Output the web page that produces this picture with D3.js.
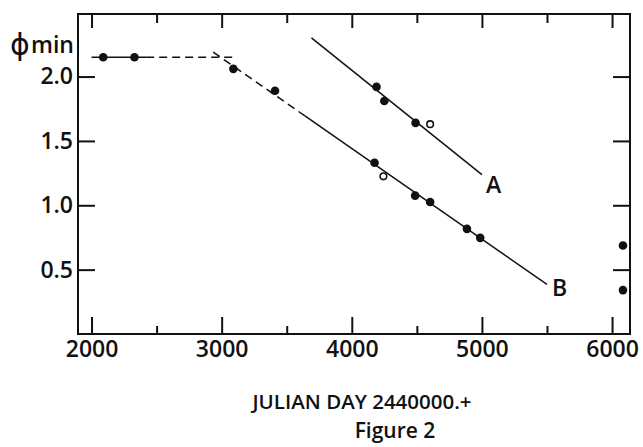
<!DOCTYPE html>
<html>
<head>
<meta charset="utf-8">
<script src="https://cdn.jsdelivr.net/npm/d3@7"></script>
<style>
  body { margin: 0; background: #fff; }
  svg text { font-family: "Open Sans", "DejaVu Sans", sans-serif; font-weight: 600; fill: #111; }
</style>
</head>
<body>
<svg width="643" height="447"></svg>
<script>
const width = 643,
    height = 447,
    margin = ({ top: 14, right: 13, bottom: 113, left: 78 });

// filled points (julian day - 2440000, phi min)
const filledDay = [2090, 2330, 3090, 3410, 4190, 4250, 4490, 4175, 4487, 4602, 4885, 4987, 6084, 6084];
const filledPhi = [2.15, 2.15, 2.06, 1.89, 1.92, 1.81, 1.64, 1.33, 1.075, 1.026, 0.817, 0.747, 0.688, 0.341];

// open points
const openDay = [4602, 4243];
const openPhi = [1.63, 1.225];

// fitted lines
const plateauSolid = [[2000, 2.15], [2420, 2.15]];
const plateauDash = [[2420, 2.15], [3115, 2.15]];
const slopeDash = [[2935, 2.19], [3640, 1.694]];
const lineB = [[3640, 1.694], [5500, 0.385]];
const lineA = [[3690, 2.30], [5000, 1.238]];

const xMajor = [2000, 3000, 4000, 5000, 6000];
const xMinor = [2500, 3500, 4500, 5500];
const yTicks = [0.5, 1.0, 1.5, 2.0];

const svg = d3.select("svg");

const x = d3.scaleLinear()
    .domain([1896, 6138])
    .range([margin.left, width - margin.right]);

const y = d3.scaleLinear()
    .domain([0, 2.486])
    .range([height - margin.bottom, margin.top]);

const x0 = x.range()[0], x1 = x.range()[1],
    y0 = y.range()[0], y1 = y.range()[1];

function styleAxis(g) {
  g.select(".domain").remove();
  g.selectAll("line").attr("stroke", "#111").attr("stroke-width", 2);
  g.selectAll("text").style("font-size", "23px");
}

// bottom axis, major ticks with labels
svg.append("g")
    .attr("transform", `translate(0,${y0})`)
    .call(d3.axisBottom(x).tickValues(xMajor).tickSizeInner(-17).tickSizeOuter(0)
      .tickPadding(7).tickFormat(d3.format("d")))
    .call(styleAxis);

svg.append("g")
    .attr("transform", `translate(0,${y0})`)
    .call(d3.axisBottom(x).tickValues(xMinor).tickSizeInner(-8).tickSizeOuter(0).tickFormat(""))
    .call(styleAxis);

// top axis
svg.append("g")
    .attr("transform", `translate(0,${y1})`)
    .call(d3.axisTop(x).tickValues(xMajor).tickSizeInner(-14).tickSizeOuter(0).tickFormat(""))
    .call(styleAxis);

svg.append("g")
    .attr("transform", `translate(0,${y1})`)
    .call(d3.axisTop(x).tickValues(xMinor).tickSizeInner(-9).tickSizeOuter(0).tickFormat(""))
    .call(styleAxis);

// left axis
svg.append("g")
    .attr("transform", `translate(${x0},0)`)
    .call(d3.axisLeft(y).tickValues(yTicks).tickSizeInner(-17).tickSizeOuter(0)
      .tickPadding(5).tickFormat(d3.format(".1f")))
    .call(styleAxis);

// right axis
svg.append("g")
    .attr("transform", `translate(${x1},0)`)
    .call(d3.axisRight(y).tickValues(yTicks).tickSizeInner(-17).tickSizeOuter(0).tickFormat(""))
    .call(styleAxis);

// frame
svg.append("rect")
    .attr("x", x0).attr("y", y1)
    .attr("width", x1 - x0).attr("height", y0 - y1)
    .attr("fill", "none").attr("stroke", "#111").attr("stroke-width", 2);

const line = d3.line().x(d => x(d[0])).y(d => y(d[1]));

const segs = [
  { pts: plateauSolid, dash: null },
  { pts: plateauDash, dash: "8,5" },
  { pts: slopeDash, dash: "8,5" },
  { pts: lineB, dash: null },
  { pts: lineA, dash: null }
];

svg.append("g")
  .selectAll("path")
  .data(segs)
  .join("path")
  .attr("d", d => line(d.pts))
  .attr("fill", "none")
  .attr("stroke", "#111")
  .attr("stroke-width", 1.5)
  .attr("stroke-dasharray", d => d.dash);

// filled points
svg.append("g")
  .selectAll("circle")
  .data(filledDay.map((d, i) => [d, filledPhi[i]]))
  .join("circle")
  .attr("cx", d => x(d[0]))
  .attr("cy", d => y(d[1]))
  .attr("r", 4.3)
  .attr("fill", "#111");

// open points
svg.append("g")
  .selectAll("circle")
  .data(openDay.map((d, i) => [d, openPhi[i]]))
  .join("circle")
  .attr("cx", d => x(d[0]))
  .attr("cy", d => y(d[1]))
  .attr("r", 3.3)
  .attr("fill", "#fff")
  .attr("stroke", "#111")
  .attr("stroke-width", 1.6);

// line labels
svg.append("text")
    .attr("x", x(5000) + 4).attr("y", y(1.238) + 18)
    .style("font-size", "23px")
    .text("A");

svg.append("text")
    .attr("x", x(5500) + 5).attr("y", y(0.385) + 12)
    .style("font-size", "23px")
    .text("B");

// y axis label
svg.append("text")
    .attr("x", 10).attr("y", 55)
    .style("font-family", "DejaVu Sans")
    .style("font-weight", 400)
    .style("font-size", "30px")
    .text("\u03d5");

svg.append("text")
    .attr("x", 31).attr("y", 53)
    .style("font-size", "23px")
    .text("min");

// x axis title
svg.append("text")
    .attr("x", 362).attr("y", 409)
    .attr("text-anchor", "middle")
    .style("font-size", "20.5px")
    .text("JULIAN DAY 2440000.+");

svg.append("text")
    .attr("x", 395).attr("y", 438)
    .attr("text-anchor", "middle")
    .style("font-size", "21px")
    .text("Figure 2");
</script>
</body>
</html>
